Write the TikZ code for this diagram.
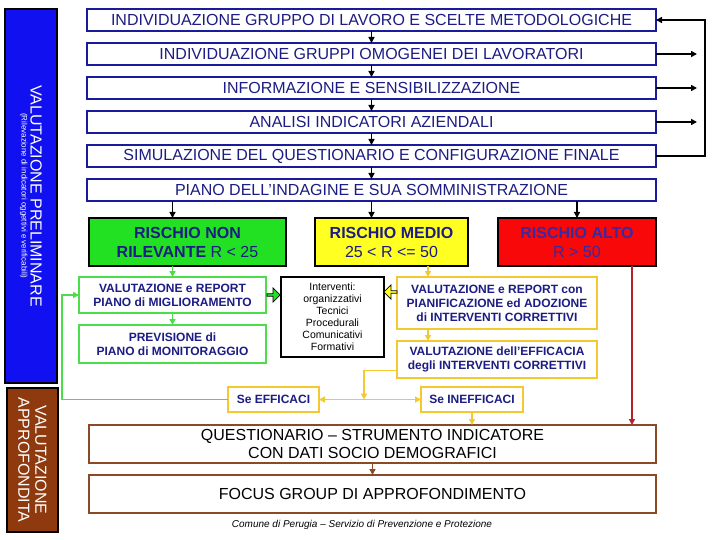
\documentclass[tikz,border=0pt]{standalone}
\usepackage{fontspec}
\setmainfont{Liberation Sans}
\usetikzlibrary{arrows.meta,positioning,shapes.arrows}
\definecolor{Navy}{HTML}{1C1C84}
\definecolor{BoxBlue}{HTML}{1A1A9C}
\definecolor{BarBlue}{HTML}{1010F0}
\definecolor{BarBrown}{HTML}{8E3A0E}
\definecolor{RiskGreen}{HTML}{22E022}
\definecolor{RiskYellow}{HTML}{FFFF22}
\definecolor{RiskRed}{HTML}{F80808}
\definecolor{AltoText}{HTML}{3A2AA0}
\definecolor{GreenLine}{HTML}{4CDC4C}
\definecolor{YellowLine}{HTML}{F4C830}
\definecolor{BrownLine}{HTML}{8A4A28}
\definecolor{RedLine}{HTML}{B52228}

\begin{document}
\begin{tikzpicture}[x=1pt,y=1pt,
  node distance=12pt,
  topbox/.style={draw=BoxBlue,line width=1.6pt,fill=white,outer sep=0pt,inner sep=0pt,
    minimum width=569pt,minimum height=22pt,text=Navy,font=\fontsize{16}{18}\selectfont},
  risk/.style={draw=black,line width=1.6pt,outer sep=0pt,inner sep=0pt,align=center,
    minimum height=48pt,text=Navy,font=\fontsize{16}{19}\selectfont},
  gbox/.style={draw=GreenLine,line width=1.6pt,fill=white,outer sep=0pt,inner sep=0pt,align=center,
    minimum width=187pt,text=Navy,font=\bfseries\fontsize{12}{14}\selectfont},
  ybox/.style={gbox,draw=YellowLine},
  bbox/.style={draw=BrownLine,line width=1.6pt,fill=white,outer sep=0pt,inner sep=0pt,align=center,
    minimum width=567pt,minimum height=38pt,font=\fontsize{16}{18}\selectfont},
  bar/.style={draw=black,line width=1.6pt,text=white,rotate=-90,align=center,inner sep=0pt},
  arrow/.style={-{Triangle[length=6pt,width=6pt]},line width=1.5pt},
  garrow/.style={arrow,draw=GreenLine},
  yarrow/.style={arrow,draw=YellowLine},
  rarrow/.style={arrow,draw=RedLine},
  barrow/.style={arrow,draw=BrownLine},
  block/.style={single arrow,draw=black,line width=.8pt,inner sep=0pt,
    minimum height=13pt,minimum width=14pt,single arrow head extend=2pt}]
\useasboundingbox (0,0) rectangle (720,-540);
% side bars
\node[bar,fill=BarBlue,minimum width=374pt,minimum height=52pt] (prelim) at (31,-196)
  {{\fontsize{16}{18}\selectfont VALUTAZIONE PRELIMINARE}\\[-3pt]
   {\fontsize{8}{10}\selectfont (Rilevazione di indicatori oggettivi e verificabili)}};
\node[bar,fill=BarBrown,minimum width=144pt,minimum height=51pt,font=\fontsize{16}{17}\selectfont]
  (approf) at (32.5,-460) {VALUTAZIONE\\APPROFONDITA};
% main column
\node[topbox] (gruppo) at (371.5,-20) {INDIVIDUAZIONE GRUPPO DI LAVORO E SCELTE METODOLOGICHE};
\node[topbox,below=of gruppo] (omogenei) {INDIVIDUAZIONE GRUPPI OMOGENEI DEI LAVORATORI};
\node[topbox,below=of omogenei] (sensib) {INFORMAZIONE E SENSIBILIZZAZIONE};
\node[topbox,below=of sensib] (analisi) {ANALISI INDICATORI AZIENDALI};
\node[topbox,below=of analisi] (simul) {SIMULAZIONE DEL QUESTIONARIO E CONFIGURAZIONE FINALE};
\node[topbox,below=of simul] (piano) {PIANO DELL’INDAGINE E SUA SOMMINISTRAZIONE};
% risk levels
\node[risk,fill=RiskGreen,minimum width=197pt] (nonril) at (187.5,-242)
  {\textbf{RISCHIO NON}\\\textbf{RILEVANTE} R < 25};
\node[risk,fill=RiskYellow,minimum width=153pt] (medio) at (391.5,-242)
  {\textbf{RISCHIO MEDIO}\\25 < R <= 50};
\node[risk,fill=RiskRed,minimum width=158pt,text=AltoText] (alto) at (577,-242)
  {\textbf{RISCHIO ALTO}\\R > 50};
\node[gbox,minimum height=36pt] (migl) at (172.5,-295) {VALUTAZIONE e REPORT\\PIANO di MIGLIORAMENTO};
\node[gbox,minimum height=38pt] (monit) at (172.5,-344) {PREVISIONE di\\PIANO di MONITORAGGIO};
\node[draw=black,line width=1.6pt,fill=white,outer sep=0pt,minimum width=103pt,minimum height=80pt,
  align=center,font=\fontsize{10.5}{12}\selectfont] (interv) at (332.5,-317)
  {Interventi:\\organizzativi\\Tecnici\\Procedurali\\Comunicativi\\Formativi};
\node[ybox,minimum width=200pt,minimum height=52pt] (correttivi) at (497,-303)
  {VALUTAZIONE e REPORT con\\PIANIFICAZIONE ed ADOZIONE\\di INTERVENTI CORRETTIVI};
\node[ybox,minimum width=200pt,minimum height=37pt] (efficacia) at (497,-359.5)
  {VALUTAZIONE dell’EFFICACIA\\degli INTERVENTI CORRETTIVI};
\node[ybox,minimum width=91pt,minimum height=25pt] (seeff) at (273.5,-399.5) {Se EFFICACI};
\node[ybox,minimum width=102pt,minimum height=25pt] (seineff) at (472,-399.5) {Se INEFFICACI};
\node[block,fill=RiskGreen] (gblock) at (273,-295) {};
\node[block,fill=RiskYellow,shape border rotate=180] (yblock) at (391,-292) {};
% in-depth evaluation
\node[bbox] (quest) at (372.5,-444) {QUESTIONARIO – STRUMENTO INDICATORE\\CON DATI SOCIO DEMOGRAFICI};
\node[bbox] (focus) at (372.5,-494) {FOCUS GROUP DI APPROFONDIMENTO};
\node[font=\itshape\fontsize{10}{12}\selectfont] (footer) at (362,-525)
  {Comune di Perugia – Servizio di Prevenzione e Protezione};
% connectors
\foreach \a/\b in {gruppo/omogenei,omogenei/sensib,sensib/analisi,analisi/simul,simul/piano}
  \draw[arrow] (\a) -- (\b);
\coordinate (loop) at (705,-20);
\draw[arrow] (simul.east) -- (simul.east -| loop) -- (loop) -- (gruppo.east);
\foreach \n in {omogenei,sensib,analisi}
  \draw[arrow] (\n.east) -- ++(41,0);
\draw[arrow] (piano.south -| migl) -- (nonril.north -| migl);
\draw[arrow] (piano.south) -- (piano.south |- medio.north);
\draw[arrow] (alto.north |- piano.south) -- (alto.north);
\draw[garrow] (nonril.south -| migl) -- (migl);
\draw[garrow] (migl) -- (monit);
\coordinate (gloop) at (62,-399.5);
\draw[garrow] (seeff.west) -- (gloop) |- (migl.west);
\coordinate (ycol) at (428,0);
\draw[yarrow] (medio.south -| ycol) -- (correttivi.north -| ycol);
\draw[yarrow] (correttivi.south -| ycol) -- (efficacia.north -| ycol);
\coordinate (split) at (364,-399.5);
\draw[yarrow] ([yshift=-11pt]efficacia.west) -| (split);
\draw[yarrow] (split) -- (seeff.east);
\draw[yarrow] (split) -- (seineff.west);
\draw[yarrow] (seineff) -- (seineff.south |- quest.north);
\draw[rarrow] ([xshift=55pt]alto.south) -- ([xshift=55pt]alto.south |- quest.north);
\draw[barrow] (quest) -- (focus);
\end{tikzpicture}
\end{document}
